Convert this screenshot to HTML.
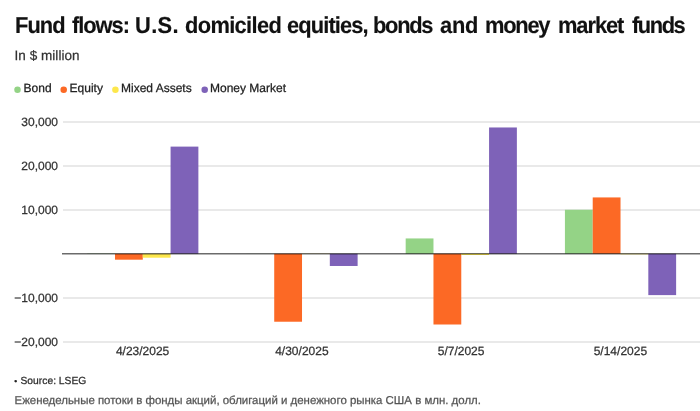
<!DOCTYPE html>
<html><head><meta charset="utf-8">
<style>
html,body{margin:0;padding:0;background:#fff;}
body{text-rendering:geometricPrecision;width:700px;height:411px;position:relative;overflow:hidden;font-family:"Liberation Sans",sans-serif;color:#222;}
.t{position:absolute;white-space:nowrap;line-height:1;-webkit-text-stroke:0.25px currentColor;}
#title{position:absolute;left:0;top:14px;width:700px;height:26px;}
.tw{top:0;font-size:23px;font-weight:bold;color:#111;-webkit-text-stroke:0.15px #111;}
#sub{left:14.5px;top:49px;font-size:13.5px;color:#333;letter-spacing:0.05px;}
.lg{font-size:12px;color:#222;top:82px;}
.yl{font-size:12px;color:#333;width:50px;left:8px;text-align:right;}
.xl{font-size:12px;color:#333;width:100px;text-align:center;top:345px;}
#src{left:20.5px;top:376.7px;font-size:10.3px;color:#2c2c2c;}
#bul{left:14.3px;top:376.5px;font-size:8.5px;color:#222;}
#cap{left:14.5px;top:395.6px;font-size:11.45px;color:#555;}
</style></head><body>
<div id="title"><span class="t tw" style="left:15.1px;letter-spacing:-1.02px;transform:scale(0.95,1.0);transform-origin:0 0;">Fund</span> <span class="t tw" style="left:72.4px;letter-spacing:-1.09px;transform:scale(0.95,1.0);transform-origin:0 0;">flows:</span> <span class="t tw" style="left:135.1px;letter-spacing:0.39px;transform:scale(0.95,1.0);transform-origin:0 0;">U.S.</span> <span class="t tw" style="left:184.5px;letter-spacing:-0.68px;transform:scale(0.95,1.0);transform-origin:0 0;">domiciled</span> <span class="t tw" style="left:286.7px;letter-spacing:-0.93px;transform:scale(0.95,1.0);transform-origin:0 0;">equities,</span> <span class="t tw" style="left:373.4px;letter-spacing:-1.33px;transform:scale(0.95,1.0);transform-origin:0 0;">bonds</span> <span class="t tw" style="left:440.1px;letter-spacing:-0.26px;transform:scale(0.95,1.0);transform-origin:0 0;">and</span> <span class="t tw" style="left:484.7px;letter-spacing:-1.30px;transform:scale(0.95,1.0);transform-origin:0 0;">money</span> <span class="t tw" style="left:558.4px;letter-spacing:-1.12px;transform:scale(0.95,1.0);transform-origin:0 0;">market</span> <span class="t tw" style="left:632.4px;letter-spacing:-1.50px;transform:scale(0.95,1.0);transform-origin:0 0;">funds</span></div>
<div class="t" id="sub">In $ million</div>

<div class="t lg" style="left:23.6px">Bond</div>
<div class="t lg" style="left:69.6px">Equity</div>
<div class="t lg" style="left:121px">Mixed Assets</div>
<div class="t lg" style="left:210px">Money Market</div>


<div class="t yl" style="top:116px">30,000</div>
<div class="t yl" style="top:160px">20,000</div>
<div class="t yl" style="top:204px">10,000</div>
<div class="t yl" style="top:292px">−10,000</div>
<div class="t yl" style="top:336px">−20,000</div>

<svg id="plot" width="700" height="411" viewBox="0 0 700 411" style="position:absolute;left:0;top:0">
<line x1="63" x2="700" y1="122" y2="122" stroke="#d4d4d4" stroke-width="1.1"/>
<line x1="63" x2="700" y1="166" y2="166" stroke="#d4d4d4" stroke-width="1.1"/>
<line x1="63" x2="700" y1="210" y2="210" stroke="#d4d4d4" stroke-width="1.1"/>
<line x1="63" x2="700" y1="298" y2="298" stroke="#d4d4d4" stroke-width="1.1"/>
<line x1="63" x2="700" y1="342" y2="342" stroke="#d4d4d4" stroke-width="1.1"/>
<rect x="87.18" y="253.49" width="27.80" height="0.26" fill="#94d386"/>
<rect x="114.98" y="253.75" width="27.80" height="5.94" fill="#fc6925"/>
<rect x="142.78" y="253.75" width="27.80" height="3.96" fill="#fde74c"/>
<rect x="170.58" y="146.61" width="27.80" height="107.14" fill="#7e62b8"/>
<rect x="246.42" y="253.68" width="27.80" height="0.07" fill="#94d386"/>
<rect x="274.22" y="253.75" width="27.80" height="67.98" fill="#fc6925"/>
<rect x="302.02" y="253.75" width="27.80" height="0.18" fill="#fde74c"/>
<rect x="329.82" y="253.75" width="27.80" height="12.23" fill="#7e62b8"/>
<rect x="405.67" y="238.44" width="27.80" height="15.31" fill="#94d386"/>
<rect x="433.47" y="253.75" width="27.80" height="70.75" fill="#fc6925"/>
<rect x="461.27" y="253.75" width="27.80" height="1.23" fill="#fde74c"/>
<rect x="489.07" y="127.47" width="27.80" height="126.28" fill="#7e62b8"/>
<rect x="564.92" y="209.75" width="27.80" height="44.00" fill="#94d386"/>
<rect x="592.72" y="197.43" width="27.80" height="56.32" fill="#fc6925"/>
<rect x="620.52" y="253.75" width="27.80" height="0.53" fill="#fde74c"/>
<rect x="648.32" y="253.75" width="27.80" height="41.36" fill="#7e62b8"/>
<line x1="62" x2="700" y1="253.75" y2="253.75" stroke="#000" stroke-opacity="0.58" stroke-width="1.4"/>
<circle cx="17.5" cy="89.7" r="3.25" fill="#94d386"/><circle cx="63.7" cy="89.7" r="3.25" fill="#fc6925"/><circle cx="115.4" cy="89.7" r="3.25" fill="#fde74c"/><circle cx="204.7" cy="89.7" r="3.25" fill="#7e62b8"/>
</svg>

<div class="t xl" style="left:92.6px">4/23/2025</div>
<div class="t xl" style="left:251.9px">4/30/2025</div>
<div class="t xl" style="left:411.1px">5/7/2025</div>
<div class="t xl" style="left:570.4px">5/14/2025</div>

<div class="t" id="bul">•</div><div class="t" id="src">Source: LSEG</div>
<div class="t" id="cap">Еженедельные потоки в фонды акций, облигаций и денежного рынка США в млн. долл.</div>
</body></html>
